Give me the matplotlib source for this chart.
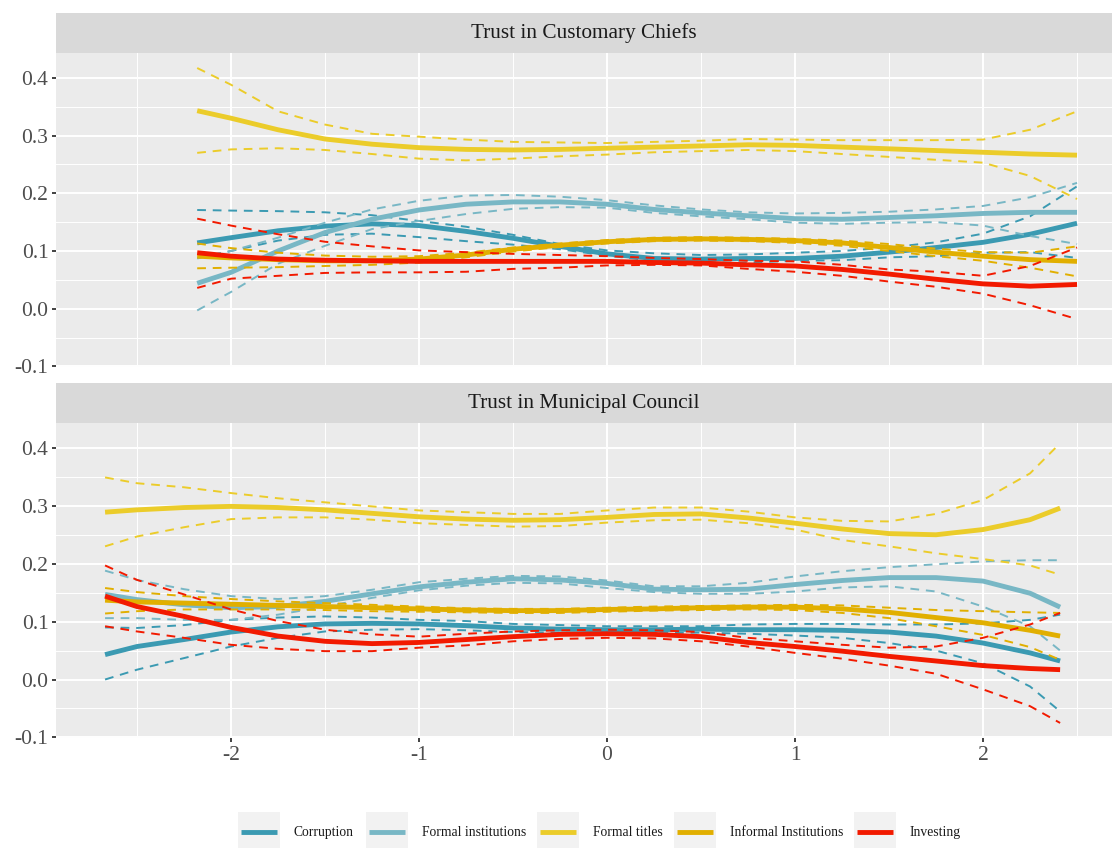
import numpy as np
import matplotlib.pyplot as plt
from matplotlib.patches import Rectangle

plt.rcParams['font.family'] = ['Liberation Serif', 'DejaVu Serif']
plt.rcParams['axes.unicode_minus'] = False

# series names and colours (Zissou1 palette)
series = ["Corruption", "Formal institutions", "Formal titles", "Informal Institutions", "Investing"]
colors = ["#3B9AB2", "#78B7C5", "#EBCC2A", "#E1AF00", "#F21A00"]

# ---- Trust in Customary Chiefs ----
x_chiefs = [-2.18, -2.0, -1.75, -1.5, -1.25, -1.0, -0.75, -0.5, -0.25, 0.0,
            0.25, 0.5, 0.75, 1.0, 1.25, 1.5, 1.75, 2.0, 2.25, 2.5]

chiefs_corr = [0.114, 0.123, 0.135, 0.143, 0.147, 0.144, 0.134, 0.122, 0.108, 0.095,
               0.087, 0.086, 0.087, 0.087, 0.091, 0.098, 0.106, 0.115, 0.129, 0.148]
chiefs_corr_hi = [0.171, 0.170, 0.169, 0.167, 0.162, 0.152, 0.142, 0.128, 0.112, 0.101,
                  0.096, 0.093, 0.094, 0.097, 0.100, 0.106, 0.115, 0.130, 0.160, 0.212]
chiefs_corr_lo = [0.088, 0.100, 0.118, 0.128, 0.130, 0.124, 0.117, 0.111, 0.103, 0.092,
                  0.083, 0.080, 0.080, 0.083, 0.084, 0.089, 0.091, 0.097, 0.098, 0.088]

chiefs_finst = [0.044, 0.063, 0.100, 0.132, 0.155, 0.171, 0.181, 0.185, 0.185, 0.181,
                0.172, 0.166, 0.161, 0.156, 0.155, 0.158, 0.161, 0.165, 0.167, 0.167]
chiefs_finst_hi = [0.087, 0.100, 0.123, 0.149, 0.172, 0.187, 0.196, 0.197, 0.194, 0.188,
                   0.179, 0.172, 0.167, 0.165, 0.166, 0.168, 0.172, 0.178, 0.193, 0.218]
chiefs_finst_lo = [-0.003, 0.029, 0.078, 0.109, 0.138, 0.152, 0.164, 0.173, 0.176, 0.175,
                   0.166, 0.160, 0.155, 0.149, 0.147, 0.149, 0.150, 0.144, 0.126, 0.112]

chiefs_ftit = [0.343, 0.330, 0.310, 0.294, 0.285, 0.279, 0.276, 0.275, 0.276, 0.278,
               0.280, 0.282, 0.284, 0.283, 0.280, 0.277, 0.274, 0.271, 0.268, 0.266]
chiefs_ftit_hi = [0.417, 0.388, 0.342, 0.319, 0.303, 0.298, 0.293, 0.289, 0.288, 0.287,
                  0.289, 0.291, 0.294, 0.293, 0.292, 0.292, 0.292, 0.293, 0.310, 0.342]
chiefs_ftit_lo = [0.270, 0.276, 0.278, 0.275, 0.268, 0.260, 0.257, 0.260, 0.264, 0.267,
                  0.271, 0.273, 0.275, 0.273, 0.268, 0.263, 0.258, 0.253, 0.230, 0.190]

chiefs_inf = [0.091, 0.088, 0.085, 0.083, 0.083, 0.086, 0.093, 0.103, 0.110, 0.116,
              0.120, 0.121, 0.120, 0.118, 0.114, 0.106, 0.098, 0.091, 0.085, 0.082]
chiefs_inf_hi = [0.113, 0.105, 0.097, 0.092, 0.090, 0.091, 0.097, 0.106, 0.113, 0.119,
                 0.123, 0.124, 0.123, 0.121, 0.118, 0.112, 0.104, 0.098, 0.097, 0.108]
chiefs_inf_lo = [0.070, 0.071, 0.072, 0.074, 0.076, 0.080, 0.089, 0.099, 0.107, 0.113,
                 0.117, 0.118, 0.117, 0.114, 0.109, 0.100, 0.091, 0.083, 0.071, 0.056]

chiefs_inv = [0.097, 0.091, 0.086, 0.084, 0.083, 0.082, 0.082, 0.082, 0.082, 0.082,
              0.080, 0.079, 0.076, 0.074, 0.068, 0.060, 0.051, 0.043, 0.039, 0.042]
chiefs_inv_hi = [0.156, 0.144, 0.129, 0.116, 0.108, 0.101, 0.098, 0.095, 0.093, 0.091,
                 0.088, 0.086, 0.083, 0.082, 0.076, 0.068, 0.064, 0.057, 0.074, 0.106]
chiefs_inv_lo = [0.036, 0.052, 0.057, 0.062, 0.063, 0.063, 0.064, 0.069, 0.071, 0.075,
                 0.076, 0.075, 0.069, 0.064, 0.057, 0.047, 0.038, 0.026, 0.006, -0.018]

# ---- Trust in Municipal Council ----
x_council = [-2.67, -2.5, -2.25, -2.0, -1.75, -1.5, -1.25, -1.0, -0.75, -0.5, -0.25,
             0.0, 0.25, 0.5, 0.75, 1.0, 1.25, 1.5, 1.75, 2.0, 2.25, 2.41]

council_corr = [0.043, 0.057, 0.069, 0.082, 0.091, 0.096, 0.097, 0.096, 0.093, 0.089, 0.087,
                0.086, 0.086, 0.087, 0.086, 0.086, 0.085, 0.082, 0.075, 0.063, 0.046, 0.032]
council_corr_hi = [0.090, 0.089, 0.094, 0.103, 0.107, 0.109, 0.107, 0.103, 0.101, 0.096, 0.094,
                   0.092, 0.092, 0.092, 0.095, 0.096, 0.096, 0.095, 0.095, 0.097, 0.103, 0.112]
council_corr_lo = [0.000, 0.017, 0.037, 0.057, 0.072, 0.083, 0.086, 0.087, 0.085, 0.082, 0.081,
                   0.080, 0.080, 0.081, 0.079, 0.076, 0.072, 0.063, 0.050, 0.028, -0.012, -0.055]

council_finst = [0.147, 0.138, 0.129, 0.124, 0.126, 0.135, 0.148, 0.160, 0.168, 0.174, 0.172,
                 0.166, 0.156, 0.155, 0.156, 0.164, 0.171, 0.176, 0.176, 0.170, 0.149, 0.125]
council_finst_hi = [0.188, 0.172, 0.156, 0.144, 0.139, 0.144, 0.155, 0.168, 0.174, 0.179, 0.178,
                    0.171, 0.161, 0.161, 0.167, 0.178, 0.187, 0.194, 0.199, 0.204, 0.206, 0.206]
council_finst_lo = [0.106, 0.106, 0.103, 0.103, 0.112, 0.126, 0.141, 0.154, 0.162, 0.167, 0.166,
                    0.158, 0.151, 0.148, 0.148, 0.152, 0.159, 0.161, 0.152, 0.126, 0.092, 0.050]

council_ftit = [0.289, 0.293, 0.297, 0.299, 0.297, 0.293, 0.287, 0.281, 0.277, 0.275, 0.276,
                0.280, 0.285, 0.286, 0.279, 0.270, 0.260, 0.252, 0.250, 0.259, 0.276, 0.296]
council_ftit_hi = [0.349, 0.339, 0.332, 0.322, 0.313, 0.306, 0.299, 0.292, 0.289, 0.286, 0.286,
                   0.292, 0.297, 0.297, 0.290, 0.280, 0.274, 0.273, 0.286, 0.310, 0.356, 0.408]
council_ftit_lo = [0.230, 0.247, 0.263, 0.277, 0.280, 0.280, 0.276, 0.270, 0.267, 0.264, 0.265,
                   0.271, 0.275, 0.276, 0.270, 0.259, 0.241, 0.230, 0.218, 0.208, 0.197, 0.181]

council_inf = [0.137, 0.134, 0.132, 0.130, 0.128, 0.126, 0.124, 0.122, 0.120, 0.119, 0.119,
               0.121, 0.122, 0.124, 0.125, 0.125, 0.122, 0.116, 0.107, 0.098, 0.085, 0.075]
council_inf_hi = [0.158, 0.151, 0.144, 0.139, 0.135, 0.132, 0.129, 0.126, 0.123, 0.122, 0.122,
                  0.124, 0.126, 0.127, 0.128, 0.129, 0.128, 0.124, 0.120, 0.118, 0.116, 0.115]
council_inf_lo = [0.114, 0.118, 0.121, 0.121, 0.121, 0.120, 0.118, 0.117, 0.116, 0.115, 0.115,
                  0.117, 0.119, 0.120, 0.121, 0.120, 0.115, 0.106, 0.092, 0.077, 0.056, 0.034]

council_inv = [0.144, 0.126, 0.109, 0.090, 0.075, 0.066, 0.062, 0.064, 0.069, 0.074, 0.078,
               0.079, 0.078, 0.074, 0.064, 0.057, 0.049, 0.040, 0.032, 0.024, 0.019, 0.017]
council_inv_hi = [0.197, 0.172, 0.147, 0.121, 0.101, 0.086, 0.078, 0.074, 0.079, 0.083, 0.085,
                  0.086, 0.085, 0.082, 0.072, 0.066, 0.060, 0.055, 0.057, 0.072, 0.095, 0.115]
council_inv_lo = [0.092, 0.083, 0.072, 0.060, 0.053, 0.049, 0.049, 0.055, 0.059, 0.066, 0.070,
                  0.072, 0.071, 0.066, 0.057, 0.046, 0.036, 0.024, 0.010, -0.017, -0.046, -0.075]

panels = [
    ("Trust in Customary Chiefs", x_chiefs,
     [(chiefs_corr, chiefs_corr_lo, chiefs_corr_hi),
      (chiefs_finst, chiefs_finst_lo, chiefs_finst_hi),
      (chiefs_ftit, chiefs_ftit_lo, chiefs_ftit_hi),
      (chiefs_inf, chiefs_inf_lo, chiefs_inf_hi),
      (chiefs_inv, chiefs_inv_lo, chiefs_inv_hi)]),
    ("Trust in Municipal Council", x_council,
     [(council_corr, council_corr_lo, council_corr_hi),
      (council_finst, council_finst_lo, council_finst_hi),
      (council_ftit, council_ftit_lo, council_ftit_hi),
      (council_inf, council_inf_lo, council_inf_hi),
      (council_inv, council_inv_lo, council_inv_hi)]),
]

W, H = 1114, 848
fig = plt.figure(figsize=(W / 100, H / 100), dpi=100)

# panel boxes in pixels: (top, bottom)
boxes = [(53, 367), (423, 738)]
left, right = 56, 1112
strip_h = 40

for i, (title, xs, data) in enumerate(panels):
    top, bot = boxes[i]
    ax = fig.add_axes([left / W, 1 - bot / H, (right - left) / W, (bot - top) / H])
    ax.set_facecolor("#EBEBEB")
    for s in ax.spines.values():
        s.set_visible(False)
    ax.set_xlim(-2.931, 2.686)
    ax.set_ylim(-0.101, 0.443)
    ax.set_xticks([-2, -1, 0, 1, 2])
    ax.set_xticks([-2.5, -1.5, -0.5, 0.5, 1.5, 2.5], minor=True)
    ax.set_yticks([-0.1, 0.0, 0.1, 0.2, 0.3, 0.4])
    ax.set_yticks([-0.05, 0.05, 0.15, 0.25, 0.35], minor=True)
    ax.set_yticklabels(["-0.1", "0.0", "0.1", "0.2", "0.3", "0.4"])
    ax.grid(which="major", color="white", lw=1.4)
    ax.grid(which="minor", color="white", lw=0.7)
    ax.set_axisbelow(True)
    ax.tick_params(which="minor", length=0)
    ax.tick_params(which="major", length=2.9, width=1.3, color="#333333",
                   labelsize=15.5, labelcolor="#4D4D4D", pad=2.5)
    if i == 0:
        ax.tick_params(axis="x", which="major", length=0, labelbottom=False)

    for (mean, lo, hi), col in zip(data, colors):
        ax.plot(xs, mean, color=col, lw=3.5, solid_capstyle="butt", zorder=3)
        ax.plot(xs, lo, color=col, lw=1.4, dashes=(4.5, 3.5), zorder=3)
        ax.plot(xs, hi, color=col, lw=1.4, dashes=(4.5, 3.5), zorder=3)

    sx = fig.add_axes([left / W, 1 - top / H, (right - left) / W, strip_h / H])
    sx.set_facecolor("#D9D9D9")
    sx.set_xticks([])
    sx.set_yticks([])
    for s in sx.spines.values():
        s.set_visible(False)
    sx.text(0.5, 0.5, title, ha="center", va="center", fontsize=15.3, color="#1A1A1A",
            transform=sx.transAxes)

# legend drawn in pixel coordinates along the bottom
lg = fig.add_axes([0, 0, 1, 48 / H])
lg.set_xlim(0, W)
lg.set_ylim(H, H - 48)
lg.axis("off")
key_x = [238, 366, 537, 674, 854]
for kx, name, col in zip(key_x, series, colors):
    lg.add_patch(Rectangle((kx, 812), 42, 36, facecolor="#F2F2F2", edgecolor="none"))
    lg.plot([kx + 3, kx + 39], [832, 832], color=col, lw=3.5, solid_capstyle="butt")
    lg.text(kx + 56, 832, name, ha="left", va="center", fontsize=9.8, color="#1A1A1A")

fig.savefig("out.png", dpi=100)
